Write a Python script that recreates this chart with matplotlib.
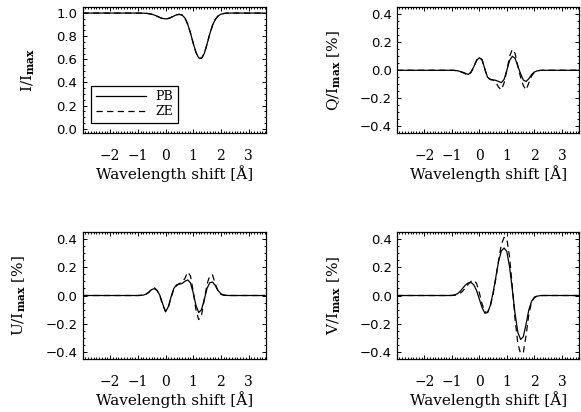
import matplotlib
matplotlib.use("Agg")
import matplotlib.pyplot as plt
from matplotlib.ticker import MultipleLocator

# Grade de comprimento de onda (Å)
wl = [-3.0, -1.2, -1.1, -1.0, -0.9, -0.8, -0.7, -0.6, -0.5, -0.4, -0.3, -0.2, -0.1,
      0.0, 0.1, 0.2, 0.3, 0.4, 0.5, 0.6, 0.7, 0.8, 0.9, 1.0, 1.1, 1.2, 1.3, 1.4,
      1.5, 1.6, 1.7, 1.8, 1.9, 2.0, 2.1, 2.2, 2.3, 2.4, 3.6]

# Stokes I
i_pb = [1.0, 1.0, 1.0, 1.0, 1.0, 0.999, 0.998, 0.995, 0.990, 0.983, 0.972, 0.961, 0.953,
        0.950, 0.953, 0.962, 0.974, 0.985, 0.989, 0.983, 0.958, 0.905, 0.830, 0.740, 0.660, 0.612, 0.608, 0.650,
        0.730, 0.820, 0.895, 0.945, 0.975, 0.990, 0.996, 0.999, 1.0, 1.0, 1.0]
i_ze = i_pb

# Stokes Q (%)
q_pb = [0.0, 0.0, 0.0, 0.0, -0.001, -0.003, -0.008, -0.014, -0.022, -0.030, -0.012, 0.025, 0.070,
        0.090, 0.075, 0.010, -0.050, -0.065, -0.068, -0.072, -0.080, -0.088, -0.065, 0.000, 0.070, 0.100, 0.085, 0.030,
        -0.025, -0.070, -0.080, -0.060, -0.030, -0.012, -0.004, -0.001, 0.0, 0.0, 0.0]
q_ze = [0.0, 0.0, 0.0, 0.0, -0.001, -0.003, -0.009, -0.017, -0.026, -0.035, -0.015, 0.025, 0.072,
        0.092, 0.075, 0.008, -0.052, -0.066, -0.070, -0.085, -0.120, -0.140, -0.090, 0.000, 0.100, 0.150, 0.120, 0.030,
        -0.050, -0.110, -0.140, -0.090, -0.040, -0.015, -0.004, -0.001, 0.0, 0.0, 0.0]

# Stokes U (%)
u_pb = [0.0, 0.0, 0.0, 0.0, 0.001, 0.003, 0.010, 0.025, 0.042, 0.048, 0.035, 0.000, -0.060,
        -0.115, -0.080, -0.010, 0.050, 0.075, 0.080, 0.085, 0.100, 0.110, 0.090, 0.020, -0.070, -0.120, -0.100, -0.030,
        0.050, 0.090, 0.095, 0.070, 0.035, 0.013, 0.004, 0.001, 0.0, 0.0, 0.0]
u_ze = [0.0, 0.0, 0.0, 0.0, 0.001, 0.004, 0.010, 0.022, 0.045, 0.055, 0.035, -0.005, -0.070,
        -0.110, -0.085, -0.015, 0.045, 0.070, 0.085, 0.095, 0.120, 0.165, 0.140, 0.030, -0.100, -0.170, -0.140, -0.030,
        0.080, 0.140, 0.145, 0.080, 0.030, 0.008, 0.002, 0.0, 0.0, 0.0, 0.0]

# Stokes V (%)
v_pb = [0.0, 0.0, 0.0, 0.001, 0.004, 0.012, 0.028, 0.052, 0.075, 0.089, 0.092, 0.075, 0.035,
        -0.025, -0.085, -0.125, -0.120, -0.070, 0.020, 0.130, 0.240, 0.315, 0.335, 0.310, 0.200, 0.040, -0.130, -0.260,
        -0.310, -0.290, -0.200, -0.100, -0.040, -0.015, -0.005, -0.001, 0.0, 0.0, 0.0]
v_ze = [0.0, 0.0, 0.0, 0.0, 0.002, 0.006, 0.015, 0.032, 0.055, 0.080, 0.100, 0.108, 0.085,
        0.020, -0.060, -0.115, -0.120, -0.075, 0.010, 0.120, 0.250, 0.360, 0.410, 0.400, 0.270, 0.060, -0.170, -0.340,
        -0.410, -0.400, -0.280, -0.130, -0.045, -0.012, -0.003, 0.0, 0.0, 0.0, 0.0]

xticks = [-2, -1, 0, 1, 2, 3]

serif = ['DejaVu Serif']
plt.rcParams['mathtext.fontset'] = 'dejavuserif'

fig = plt.figure(figsize=(5.81, 4.12), dpi=100)

paineis = [
    ([0.1429, 0.6765, 0.3144, 0.3058], i_pb, i_ze, r'I/I$_{\mathbf{max}}$', (-0.04, 1.05), 0.2, -0.25),
    ([0.6838, 0.6765, 0.3127, 0.3058], q_pb, q_ze, r'Q/I$_{\mathbf{max}}$ [%]', (-0.45, 0.45), 0.2, -0.30),
    ([0.1429, 0.1279, 0.3144, 0.3097], u_pb, u_ze, r'U/I$_{\mathbf{max}}$ [%]', (-0.45, 0.45), 0.2, -0.30),
    ([0.6838, 0.1279, 0.3127, 0.3097], v_pb, v_ze, r'V/I$_{\mathbf{max}}$ [%]', (-0.45, 0.45), 0.2, -0.30),
]

for k, (pos, pb, ze, ylab, ylim, ystep, ylx) in enumerate(paineis):
    ax = fig.add_axes(pos)
    ax.plot(wl, pb, color='black', lw=0.9, label='PB')
    ax.plot(wl, ze, color='black', lw=0.9, dashes=(5, 3.5), label='ZE')
    ax.set_xlim(-2.98, 3.62)
    ax.set_ylim(*ylim)
    ax.set_xticks(xticks)
    ax.xaxis.set_minor_locator(MultipleLocator(0.1))
    ax.yaxis.set_major_locator(MultipleLocator(ystep))
    ax.yaxis.set_minor_locator(MultipleLocator(0.05))
    ax.tick_params(which='both', direction='in', top=True, right=True, width=0.7)
    ax.tick_params(which='major', length=3)
    ax.tick_params(which='minor', length=1.5)
    ax.tick_params(axis='x', pad=11, labelsize=10)
    ax.tick_params(axis='y', pad=4, labelsize=9.5)
    for lab in ax.get_xticklabels():
        lab.set_family(serif)
    for lab in ax.get_yticklabels():
        lab.set_family(['DejaVu Sans'])
    ax.yaxis.set_major_formatter(plt.FuncFormatter(lambda v, p: ('%.1f' % v).replace('-', '\u2212')))
    for s in ax.spines.values():
        s.set_linewidth(0.9)
    ax.set_xlabel('Wavelength shift [Å]', family=serif, fontsize=11)
    ax.xaxis.set_label_coords(0.5, -0.25)
    ax.set_ylabel(ylab, family=serif, fontsize=11)
    ax.yaxis.set_label_coords(ylx, 0.5)
    if k == 0:
        leg = ax.legend(loc='lower left', bbox_to_anchor=(0.045, 0.084), frameon=True, fancybox=False,
                        edgecolor='black', framealpha=1, handlelength=4.0, handletextpad=0.8,
                        labelspacing=0.15, borderpad=0.35, borderaxespad=0,
                        prop={'family': serif, 'size': 9})
        leg.get_frame().set_linewidth(0.9)

fig.savefig('out.png', dpi=100)
